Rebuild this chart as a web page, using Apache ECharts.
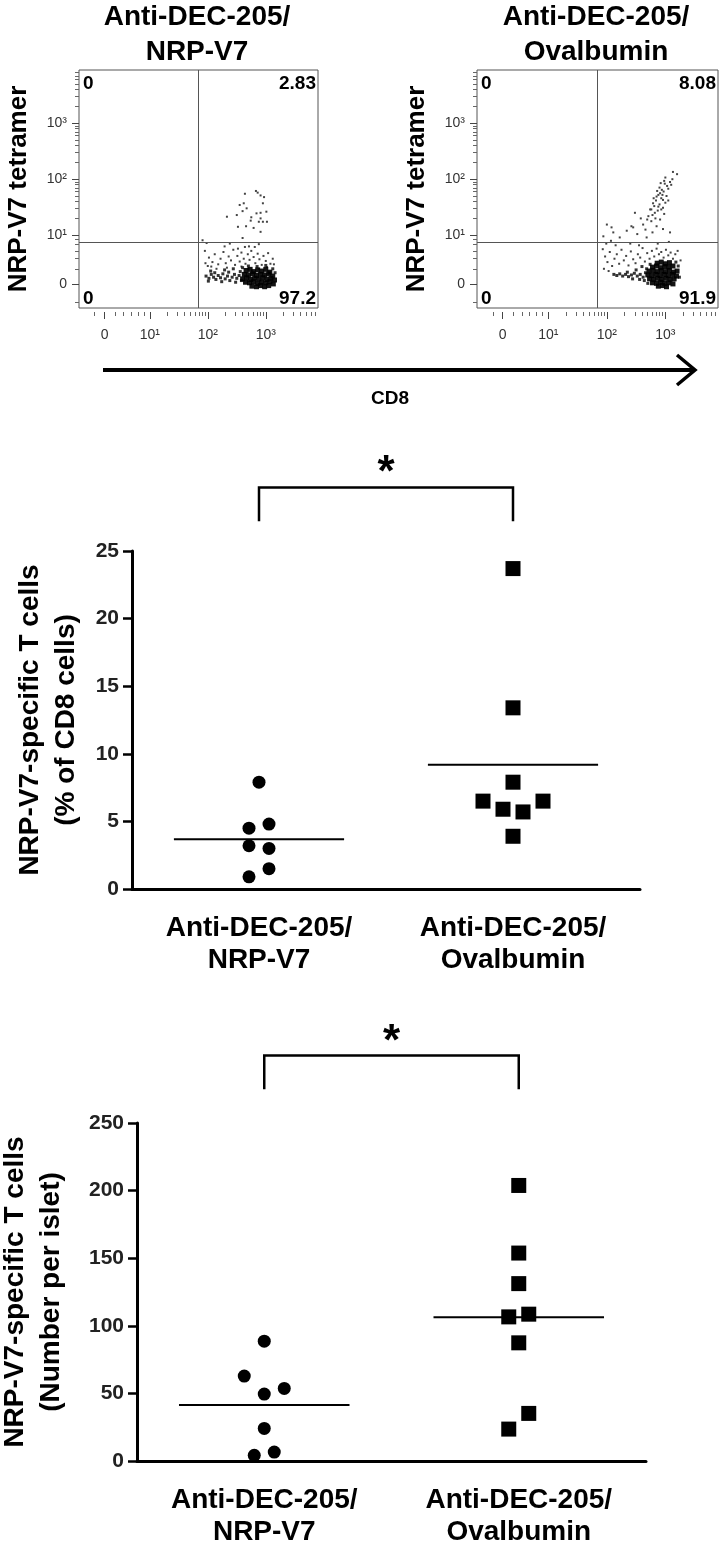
<!DOCTYPE html>
<html><head><meta charset="utf-8">
<script src="https://cdn.jsdelivr.net/npm/echarts@6/dist/echarts.min.js"></script>
<style>html,body{margin:0;padding:0;background:#fff}#c{width:720px;height:1548px}</style>
</head><body><div id="c"></div>
<script>
// ---------------- DATA ----------------
const groups = ['Anti-DEC-205/\nNRP-V7', 'Anti-DEC-205/\nOvalbumin'];
// Panel: % of CD8 cells
const pctNRP = [7.9, 4.5, 4.8, 3.2, 3.0, 1.5, 0.9];
const pctOVA = [23.7, 13.4, 7.9, 6.5, 5.9, 5.7, 6.5, 3.9];
// Panel: number per islet
const numNRP = [88.6, 62.8, 49.5, 53.7, 24.1, 4.2, 6.6];
const numOVA = [203.8, 153.8, 131.2, 106.6, 108.6, 87.4, 35.2, 23.6];
// Flow plots: quadrant percentages [UL, UR, LL, LR]
const quadNRP = ['0', '2.83', '0', '97.2'];
const quadOVA = ['0', '8.08', '0', '91.9'];
// Flow tick labels (positions in display decades)
const flowXTickPos = [0.22, 1, 2, 3];
const flowYTickPos = [0.125, 1, 2, 3];
const flowTickText = ['0', '10\u00b9', '10\u00b2', '10\u00b3'];
const flowGate = [1.83, 0.88];
// Flow events, [CD8, tetramer] in display decades
const nrpUpper = [[2.64,1.74],[2.83,1.79],[2.86,1.76],[2.91,1.71],[2.97,1.68],[2.95,1.57],[2.55,1.54],[2.62,1.57],[2.67,1.48],[2.60,1.43],[2.50,1.36],[2.33,1.33],[2.84,1.39],[2.91,1.40],[3.01,1.42],[2.75,1.32],[2.74,1.26],[2.91,1.30],[2.95,1.24],[3.02,1.24],[2.88,1.24],[2.52,1.15],[2.66,1.16],[2.79,1.13],[2.91,1.06],[2.60,0.95]];
const nrpSparse = [[1.91,0.91],[1.98,0.86],[2.29,0.80],[2.38,0.85],[2.52,0.76],[2.64,0.79],[2.71,0.80],[2.81,0.79],[2.88,0.84],
 [1.95,0.72],[2.02,0.60],[2.08,0.52],[2.12,0.66],[2.18,0.48],[2.22,0.58],[2.27,0.70],[2.31,0.50],[2.36,0.62],[2.40,0.55],[2.44,0.74],[2.47,0.47],[2.51,0.63],[2.55,0.53],[2.58,0.69],[2.62,0.58],[2.65,0.49],[2.69,0.66],[2.72,0.56],[2.75,0.72],[2.79,0.61],[2.82,0.50],[2.86,0.67],[2.89,0.57],[2.93,0.47],[2.96,0.63],[3.00,0.54],[3.04,0.68],[3.08,0.49],[3.12,0.58],[2.00,0.45],[2.33,0.42],[2.70,0.40],[3.02,0.43],[2.15,0.40],[2.88,0.40],[1.96,0.50],[2.06,0.44],[2.58,0.44],[3.14,0.48]];
const nrpMid = [[1.97,0.27],[2.02,0.23],[2.06,0.30],[2.10,0.25],[2.14,0.21],[2.18,0.28],[2.22,0.24],[2.26,0.31],[2.30,0.22],[2.34,0.27],[2.38,0.19],[2.42,0.25],[2.46,0.30],[2.50,0.23],[2.54,0.28],[2.58,0.19],[2.01,0.18],[2.12,0.33],[2.24,0.17],[2.36,0.34],[2.48,0.16],[2.56,0.35],[2.05,0.36],[2.29,0.38],[2.44,0.40],[2.60,0.42],[2.70,0.45],[2.85,0.44],[3.00,0.46],[3.12,0.40],[3.16,0.33]];
const nrpCore = [[2.66,0.37],[2.73,0.39],[2.79,0.35],[2.86,0.38],[2.93,0.36],[3.00,0.39],[3.07,0.34],
 [2.63,0.30],[2.70,0.29],[2.77,0.31],[2.84,0.28],[2.91,0.30],[2.98,0.29],[3.05,0.31],[3.12,0.27],
 [2.60,0.22],[2.67,0.24],[2.74,0.21],[2.81,0.23],[2.88,0.22],[2.95,0.24],[3.02,0.21],[3.09,0.23],[3.15,0.20],
 [2.65,0.16],[2.72,0.15],[2.79,0.17],[2.86,0.14],[2.93,0.16],[3.00,0.15],[3.07,0.17],[3.13,0.13],
 [2.76,0.09],[2.84,0.08],[2.91,0.10],[2.98,0.08],[3.05,0.10]];
const ovaUpper = [[3.13,2.13],[3.20,2.09],[3.08,1.95],[2.99,1.92],[3.03,1.88],[2.94,1.81],[2.91,1.75],[2.85,1.69],[2.96,1.63],[2.79,1.57],[2.88,1.51],[2.76,1.46],[2.82,1.40],[2.71,1.34],[2.91,1.28],[2.76,1.25],[2.62,1.19],[2.85,1.16],[2.96,1.11],[2.45,1.14],[2.34,1.08],[2.11,1.05],[2.00,1.19],[2.08,1.14],[2.22,0.96],[2.68,0.96],[3.08,1.05],[2.74,1.46],[2.48,1.40],[2.42,1.16],
 [2.90,1.85],[2.97,1.78],[2.88,1.72],[3.02,1.70],[2.93,1.66],[2.84,1.62],[3.00,1.58],[2.90,1.55],[2.81,1.52],[2.96,1.49],[3.05,1.83],[2.98,1.97],[3.10,1.90],[2.92,1.93],[2.86,1.79],[3.05,1.62],[2.80,1.66],[2.95,1.72],[3.12,2.00],[3.00,2.03],[2.87,1.44],[2.78,1.36],[2.69,1.28],[2.98,1.38],[2.93,1.46],[2.83,1.30],[2.58,1.30],[2.66,1.10],[2.78,1.05],[2.52,1.02]];
const ovaSparse = [[1.93,0.75],[1.97,0.62],[2.01,0.52],[2.05,0.70],[2.09,0.45],[2.13,0.58],[2.17,0.66],[2.21,0.49],[2.25,0.74],[2.29,0.55],[2.33,0.63],[2.37,0.46],[2.41,0.71],[2.45,0.57],[2.49,0.50],[2.53,0.66],[2.57,0.60],[2.61,0.77],[2.65,0.53],[2.69,0.68],[2.73,0.58],[2.77,0.72],[2.81,0.62],[2.85,0.76],[2.89,0.66],[2.93,0.70],[2.97,0.60],[3.01,0.74],[3.05,0.64],[3.09,0.69],[3.13,0.58],[3.17,0.66],[3.21,0.72],[3.26,0.55],[1.95,0.40],[2.03,0.36],[1.99,0.85],[2.07,0.90],[1.94,0.98],[2.15,0.82],[2.40,0.85],[2.55,0.82],[2.87,0.85],[3.06,0.88]];
const ovaMid = [[2.12,0.30],[2.17,0.28],[2.22,0.31],[2.27,0.27],[2.32,0.30],[2.37,0.26],[2.42,0.29],[2.47,0.32],[2.52,0.27],[2.57,0.30],[2.62,0.25],[2.66,0.33],[2.44,0.22],[2.56,0.21],[2.64,0.19],[2.35,0.34],[2.68,0.40],[2.60,0.44],[2.50,0.38],[3.22,0.45],[3.24,0.25],[2.74,0.48],[3.18,0.52],[2.70,0.14]];
const ovaCore = [[2.86,0.50],[2.93,0.52],[3.00,0.49],[3.07,0.51],
 [2.78,0.43],[2.85,0.45],[2.92,0.42],[2.99,0.44],[3.06,0.43],[3.13,0.45],
 [2.72,0.36],[2.79,0.37],[2.86,0.35],[2.93,0.37],[3.00,0.35],[3.07,0.37],[3.14,0.34],[3.20,0.36],
 [2.70,0.29],[2.77,0.28],[2.84,0.30],[2.91,0.28],[2.98,0.30],[3.05,0.28],[3.12,0.30],[3.19,0.27],
 [2.73,0.22],[2.80,0.21],[2.87,0.23],[2.94,0.21],[3.01,0.23],[3.08,0.21],[3.15,0.22],
 [2.78,0.15],[2.85,0.14],[2.92,0.16],[2.99,0.14],[3.06,0.15],[3.13,0.13],
 [2.88,0.09],[2.95,0.10],[3.02,0.08]];

// ---------------- STYLE ----------------
const F = '"Liberation Sans", Arial, Helvetica, sans-serif';
const jitPctNRP = [0,-10,10,-10,10,10,-10];
const jitPctOVA = [0,0,0,-30,-10,10,30,0];
const jitNumNRP = [0,-20,0,20,0,-10,10];
const jitNumOVA = [0,0,0,-10,10,0,10,-10];
const FX = [-0.22, 3.9], FY = [-0.30, 3.95];
const mean = a => a.reduce((s,v)=>s+v,0)/a.length;
function minorTicks(lin, max){ const out=[...lin]; for(let d=1;d<=3;d++) for(let k=2;k<=9;k++){const v=d+Math.log10(k); if(v<max) out.push(v);} return out; }
const minorX = minorTicks([0.05,0.40,0.55,0.68,0.80,0.90], FX[1]);
const minorY = minorTicks([-0.2,0.40,0.58,0.72,0.83,0.92], FY[1]);
const lab = (pos, v) => { const i = pos.findIndex(p => Math.abs(p - v) < 1e-6); return i < 0 ? '' : flowTickText[i]; };

function flowX(g){ return [
  {type:'value', gridIndex:g, position:'bottom', min:FX[0], max:FX[1], offset:4, axisLine:{show:false, onZero:false}, splitLine:{show:false},
   axisTick:{show:true, inside:false, customValues:flowXTickPos, length:7, lineStyle:{color:'#444'}},
   axisLabel:{show:true, customValues:flowXTickPos, margin:16, formatter:v=>lab(flowXTickPos,v), color:'#333', fontFamily:F, fontSize:14}},
  {type:'value', gridIndex:g, position:'bottom', min:FX[0], max:FX[1], offset:4, axisLine:{show:false, onZero:false}, splitLine:{show:false},
   axisTick:{show:true, inside:false, customValues:minorX, length:4, lineStyle:{color:'#666'}}, axisLabel:{show:false}}
];}
function flowY(g){ return [
  {type:'value', gridIndex:g, position:'left', min:FY[0], max:FY[1], axisLine:{show:false, onZero:false}, splitLine:{show:false},
   axisTick:{show:true, inside:false, customValues:flowYTickPos, length:7, lineStyle:{color:'#444'}},
   axisLabel:{show:true, customValues:flowYTickPos, margin:12, formatter:v=>lab(flowYTickPos,v), color:'#333', fontFamily:F, fontSize:14},
   name:'NRP-V7 tetramer', nameLocation:'middle', nameGap:47, nameTextStyle:{fontFamily:F, fontWeight:'bold', fontSize:26, color:'#000'}},
  {type:'value', gridIndex:g, position:'left', min:FY[0], max:FY[1], axisLine:{show:false, onZero:false}, splitLine:{show:false},
   axisTick:{show:true, inside:false, customValues:minorY, length:4, lineStyle:{color:'#666'}}, axisLabel:{show:false}}
];}
function flowSeries(ax, sparse, mid, core, upper){ return [
  {type:'scatter', xAxisIndex:ax, yAxisIndex:ax, symbol:'rect', symbolSize:2, itemStyle:{color:'#444', opacity:1}, data:[...upper, ...sparse], silent:true,
   markLine:{silent:true, symbol:['none','none'], label:{show:false}, lineStyle:{color:'#555', width:1, type:'solid'},
     data:[{xAxis:flowGate[0]},{yAxis:flowGate[1]}]}},
  {type:'scatter', xAxisIndex:ax, yAxisIndex:ax, symbol:'rect', symbolSize:3, itemStyle:{color:'#111', opacity:0.85}, data:mid, silent:true},
  {type:'scatter', xAxisIndex:ax, yAxisIndex:ax, symbol:'rect', symbolSize:5, itemStyle:{color:'#000', opacity:0.92}, data:core, silent:true}
];}

function dotX(g){ return {type:'category', gridIndex:g, data:groups, boundaryGap:true,
  axisLine:{lineStyle:{color:'#000', width:3}}, axisTick:{alignWithLabel:true, length:8, lineStyle:{color:'#000', width:3}},
  axisLabel:{interval:0, margin:23, color:'#000', fontFamily:F, fontWeight:'bold', fontSize:28, lineHeight:32}, splitLine:{show:false}}; }
function dotY(g, max, itv, name, gap){ return {type:'value', gridIndex:g, min:0, max:max, interval:itv,
  axisLine:{show:true, onZero:false, lineStyle:{color:'#000', width:3}}, axisTick:{show:true, length:9, lineStyle:{color:'#000', width:2.5}},
  axisLabel:{margin:13, color:'#222', fontFamily:F, fontWeight:'bold', fontSize:21}, splitLine:{show:false},
  name:name, nameLocation:'middle', nameGap:gap, nameTextStyle:{fontFamily:F, fontWeight:'bold', fontSize:28, lineHeight:36, color:'#000'}}; }
function dotSeries(ax, a, b, ja, jb, br){ return [
  {type:'scatter', xAxisIndex:ax, yAxisIndex:ax, symbol:'circle', symbolSize:13, itemStyle:{color:'#000', opacity:1},
   data:a.map((v,i)=>({value:[0,v], symbolOffset:[ja[i],0]}))},
  {type:'scatter', xAxisIndex:ax, yAxisIndex:ax, symbol:'rect', symbolSize:15, itemStyle:{color:'#000', opacity:1},
   data:b.map((v,i)=>({value:[1,v], symbolOffset:[jb[i],0]}))},
  {type:'custom', xAxisIndex:ax, yAxisIndex:ax, data:[[0, mean(a)],[1, mean(b)]], encode:{x:0,y:1}, silent:true,
   renderItem:(p, api)=>{ const c = api.coord([api.value(0), api.value(1)]); const hw = api.size([1,0])[0]*0.335;
     return {type:'line', shape:{x1:c[0]-hw, y1:c[1], x2:c[0]+hw, y2:c[1]}, style:{stroke:'#000', lineWidth:2}}; }},
  {type:'custom', xAxisIndex:ax, yAxisIndex:ax, data:[[0,0]], encode:{x:0,y:1}, silent:true, clip:false,
   renderItem:(p, api)=>{ const p1 = api.coord([0, br.top]), p2 = api.coord([1, br.top]), d = api.coord([0, br.drop])[1], s = api.coord([0, br.star])[1];
     return {type:'group', children:[
       {type:'polyline', shape:{points:[[p1[0], d],[p1[0], p1[1]],[p2[0], p2[1]],[p2[0], d]]}, style:{stroke:'#000', lineWidth:2.5, fill:null}},
       {type:'text', style:{text:'*', x:(p1[0]+p2[0])/2, y:s, align:'center', verticalAlign:'middle', font:'bold 44px '+F, fill:'#000'}}
     ]}; }}
];}

const txt = (x, y, text, size, align, extra) => ({type:'text', x, y, silent:true,
  style:Object.assign({text, font:'bold '+size+'px '+F, fill:'#000', align:align||'left', verticalAlign:'top'}, extra||{})});

const option = {
  animation:false,
  grid:[
    {left:79, top:70, width:239, height:238, show:true, borderColor:'#555', borderWidth:1, outerBoundsMode:'none'},
    {left:477, top:70, width:241, height:238, show:true, borderColor:'#555', borderWidth:1, outerBoundsMode:'none'},
    {left:132, top:551, width:508, height:338, outerBoundsMode:'none'},
    {left:137, top:1123, width:509, height:338, outerBoundsMode:'none'}
  ],
  xAxis:[...flowX(0), ...flowX(1), dotX(2), dotX(3)],
  yAxis:[...flowY(0), ...flowY(1),
    dotY(2, 25, 5, 'NRP-V7-specific T cells\n(% of CD8 cells)', 47),
    dotY(3, 250, 50, 'NRP-V7-specific T cells\n(Number per islet)', 68)],
  series:[
    ...flowSeries(0, nrpSparse, nrpMid, nrpCore, nrpUpper),
    ...flowSeries(2, ovaSparse, ovaMid, ovaCore, ovaUpper),
    ...dotSeries(4, pctNRP, pctOVA, jitPctNRP, jitPctOVA, {top:29.7, drop:27.2, star:30.7}),
    ...dotSeries(5, numNRP, numOVA, jitNumNRP, jitNumOVA, {top:300, drop:275, star:309})
  ],
  graphic:[
    txt(197, 0, 'Anti-DEC-205/\nNRP-V7', 28, 'center', {lineHeight:35}),
    txt(596, 0, 'Anti-DEC-205/\nOvalbumin', 28, 'center', {lineHeight:35}),
    txt(83, 74, quadNRP[0], 19), txt(316, 74, quadNRP[1], 19, 'right'),
    txt(83, 289, quadNRP[2], 19), txt(316, 289, quadNRP[3], 19, 'right'),
    txt(481, 74, quadOVA[0], 19), txt(716, 74, quadOVA[1], 19, 'right'),
    txt(481, 289, quadOVA[2], 19), txt(716, 289, quadOVA[3], 19, 'right'),
    {type:'line', silent:true, shape:{x1:103, y1:370, x2:694, y2:370}, style:{stroke:'#000', lineWidth:4}},
    {type:'polyline', silent:true, shape:{points:[[677,355],[695,370],[677,385]]}, style:{stroke:'#000', lineWidth:3.5, fill:null}},
    txt(390, 389, 'CD8', 19, 'center')
  ]
};
const chart = echarts.init(document.getElementById('c'), null, {renderer:'canvas'});
chart.setOption(option);
</script></body></html>
